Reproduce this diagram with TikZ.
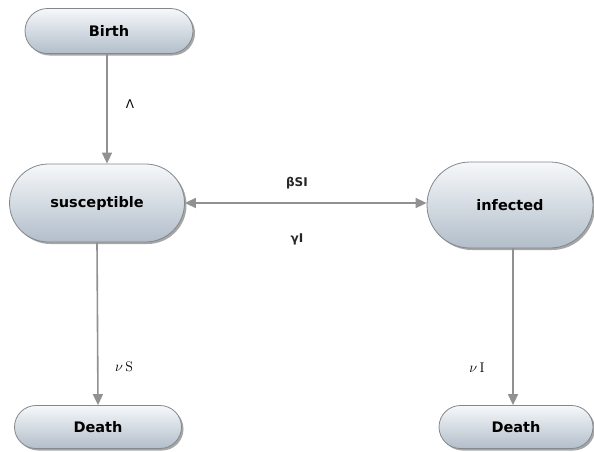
\documentclass[tikz,border=0pt]{standalone}
\usepackage{fontspec}
\usetikzlibrary{arrows.meta,shadows,shapes.misc}
\newfontfamily\boxfont{DejaVu Sans}
\definecolor{boxtop}{RGB}{246,248,250}
\definecolor{boxbot}{RGB}{178,190,202}
\definecolor{boxline}{RGB}{130,136,142}
\definecolor{flow}{RGB}{145,145,145}
\tikzset{
  state/.style={rounded rectangle, draw=boxline, line width=0.8pt,
    top color=boxtop, bottom color=boxbot,
    drop shadow={shadow xshift=2pt, shadow yshift=-2pt, fill=black, opacity=0.35},
    font=\boxfont\bfseries\fontsize{14.5}{16}\selectfont, inner sep=0pt},
  rate/.style={draw=flow, line width=1.6pt, -{Triangle[length=11pt,width=10pt]}},
  lab/.style={font=\boxfont\bfseries\fontsize{12}{14}\selectfont, text=black!85}
}
\begin{document}
\begin{tikzpicture}[x=1pt,y=-1pt]
	  \useasboundingbox (0,0) rectangle (594,451);
	  \node[state, minimum width=168pt, minimum height=45pt] (birth) at (109,31) {Birth};
	  \node[state, minimum width=175pt, minimum height=78pt] (sus) at (97,203) {susceptible};
	  \node[state, minimum width=166pt, minimum height=86pt] (inf) at (510,205) {infected};
	  \node[state, minimum width=167pt, minimum height=43pt] (deathS) at (98,427) {Death};
	  \node[state, minimum width=154pt, minimum height=43pt] (deathI) at (516,427) {Death};
	  \coordinate (b0) at (birth.south -| 107,0);
	  \coordinate (i0) at (inf.south -| 513,0);
	  \draw[rate] (b0) -- (b0 |- sus.north);
	  \draw[rate, {Triangle[length=11pt,width=10pt]}-{Triangle[length=11pt,width=10pt]}] (sus.east) -- (sus.east -| inf.west);
	  \draw[rate] (sus.south) -- (deathS.north);
	  \draw[rate] (i0) -- (i0 |- deathI.north);
	  \node[font=\boxfont\fontsize{12}{14}\selectfont] (lam) at (130,104) {Λ};
	  \node[lab] (inc) at (297,183) {βSI};
	  \node[lab] (rec) at (297,239) {γI};
	  \node[font=\fontsize{14}{16}\selectfont] (muS) at (124,367) {$\nu\,\mathrm{S}$};
	  \node[font=\fontsize{14}{16}\selectfont] (muI) at (477,368) {$\nu\,\mathrm{I}$};
	\end{tikzpicture}
\end{document}
